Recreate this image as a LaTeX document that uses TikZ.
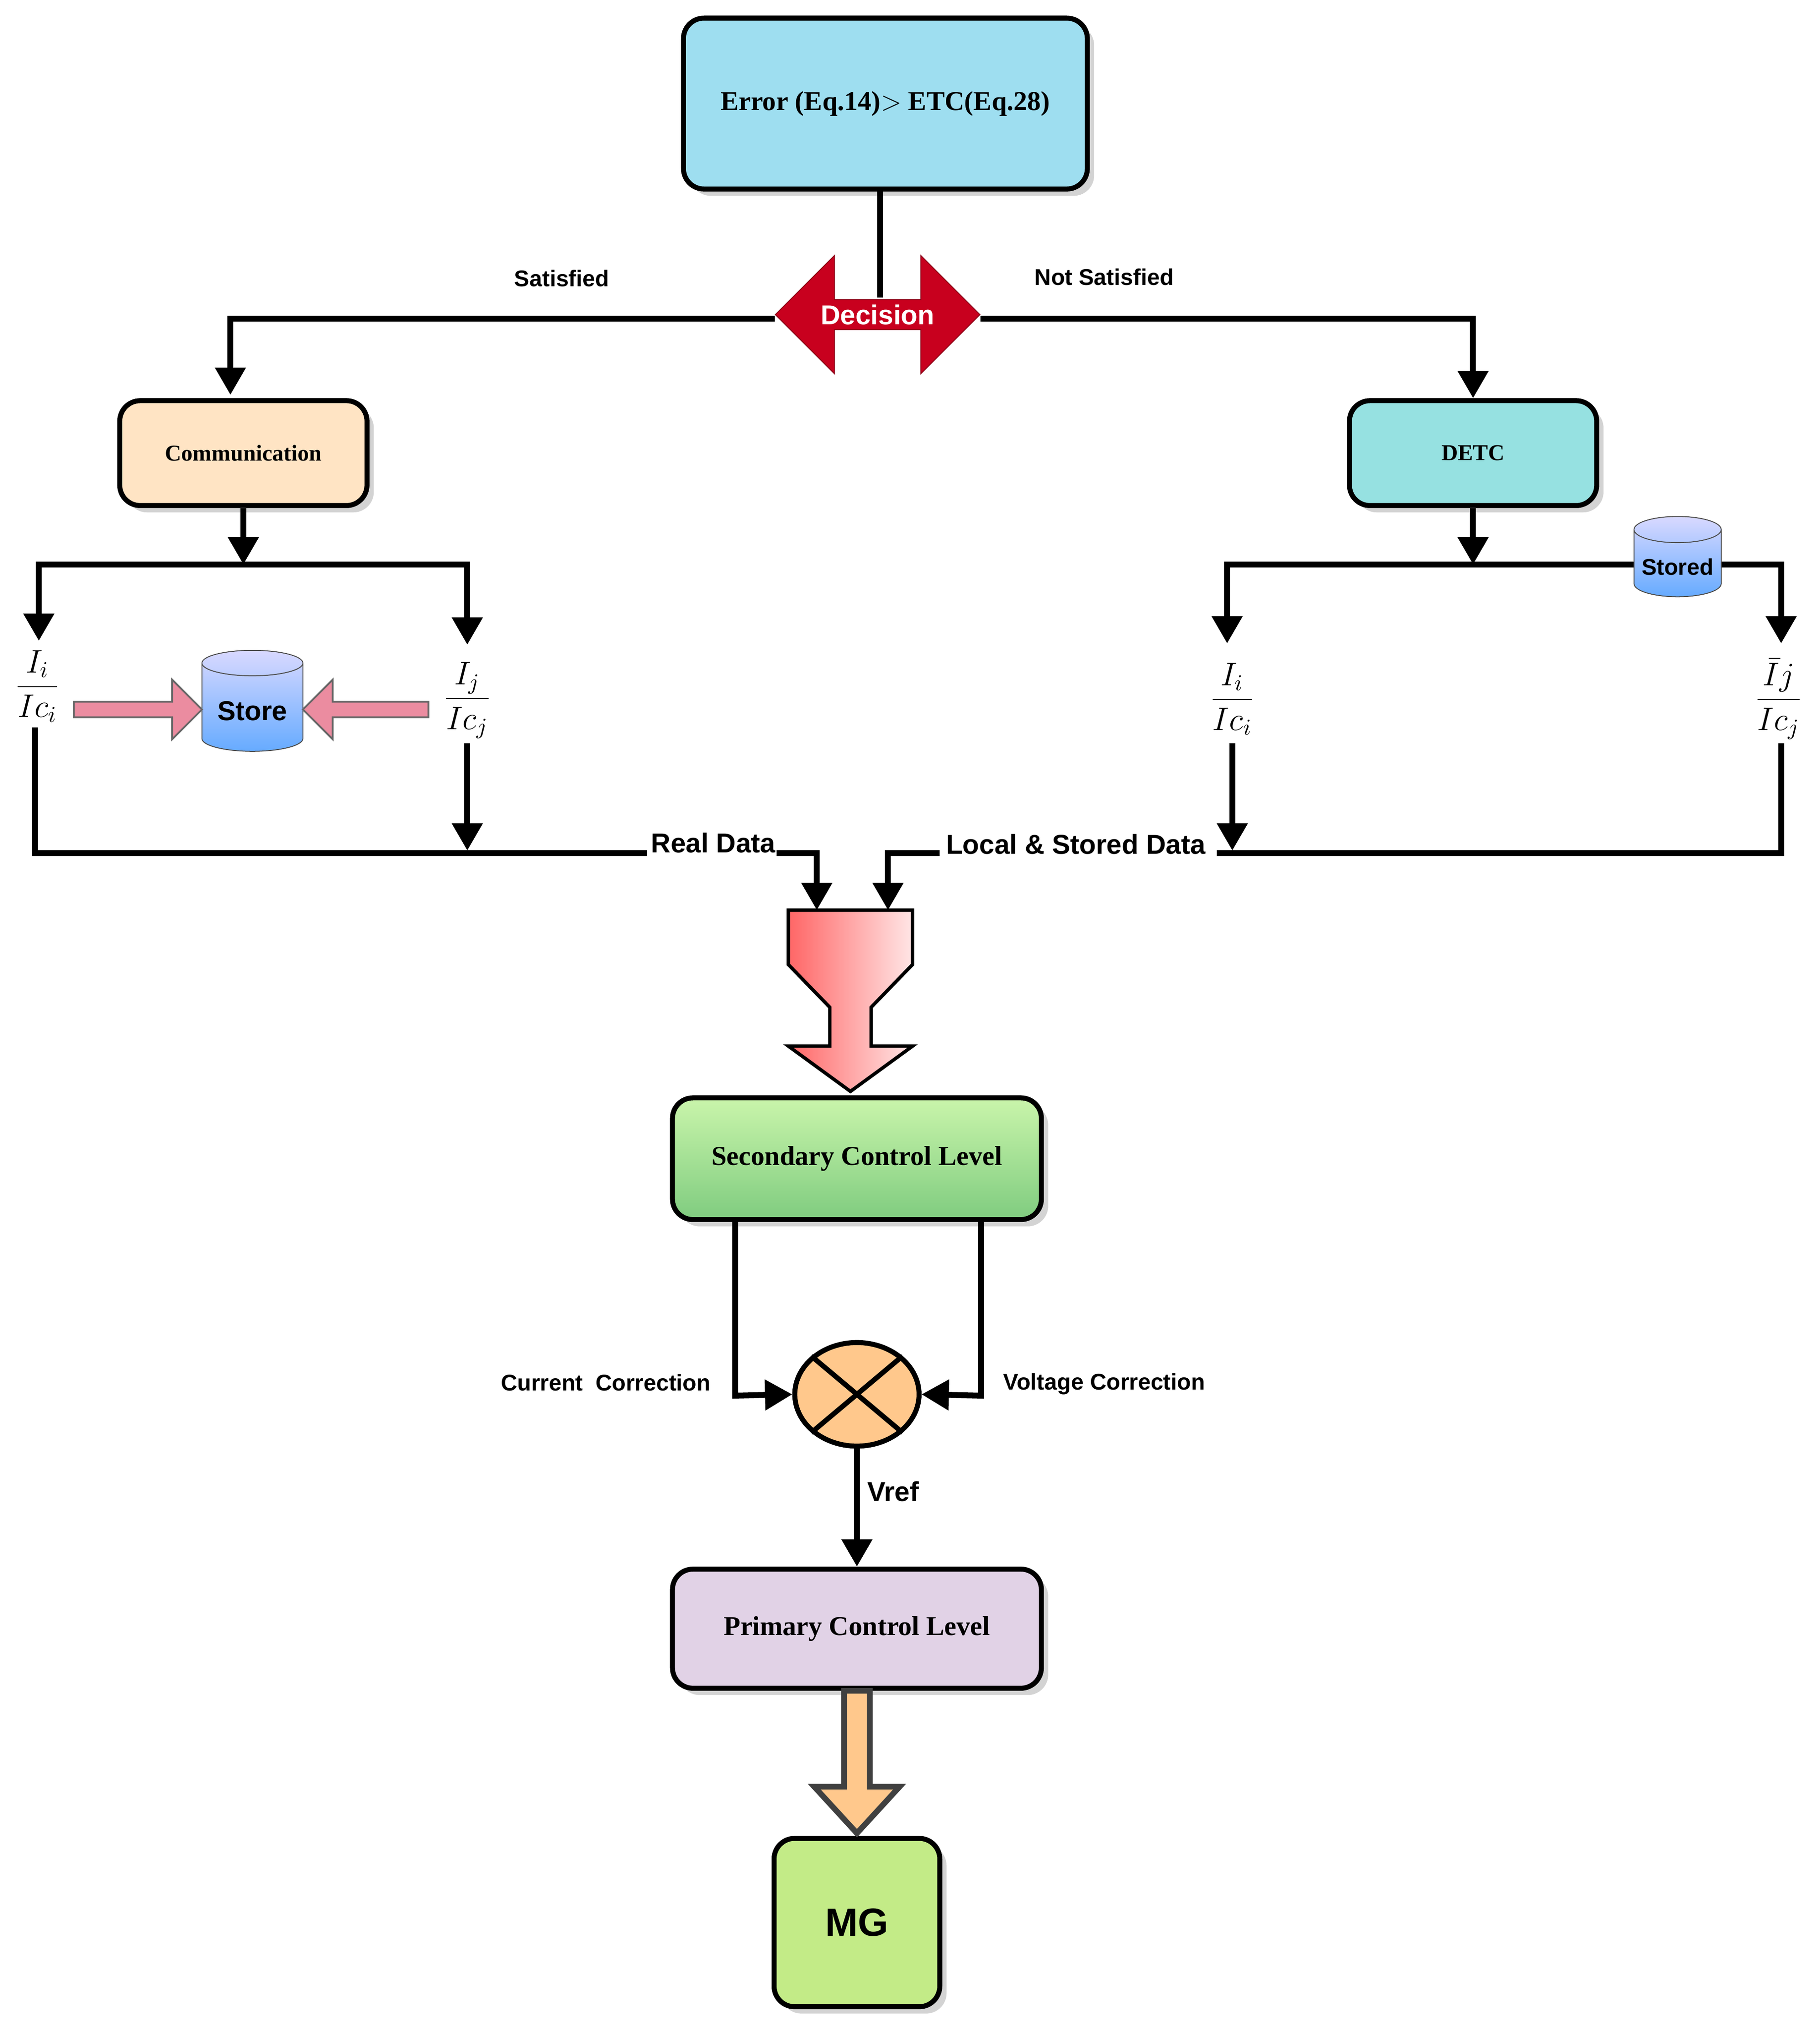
\documentclass[tikz,border=0pt]{standalone}
\usepackage{fontspec}
\setsansfont{Liberation Sans}
\newfontfamily\tnr{Liberation Serif}
\usetikzlibrary{shapes.geometric,shapes.arrows,shadows,arrows.meta}
\definecolor{topc}{RGB}{158,222,240}
\definecolor{peach}{RGB}{255,228,196}
\definecolor{detc}{RGB}{150,225,225}
\definecolor{decred}{RGB}{200,0,30}
\definecolor{prim}{RGB}{225,210,230}
\definecolor{orng}{RGB}{255,200,140}
\definecolor{mgc}{RGB}{195,235,135}
\definecolor{pinkar}{RGB}{235,140,160}
\tikzset{
 box/.style={draw=black,line width=2.2pt,rounded corners=9pt,drop shadow={opacity=0.35,shadow xshift=3pt,shadow yshift=-3pt},font=\tnr\bfseries\large,align=center},
 ln/.style={line width=2.6pt},
 ar/.style={ln,-{Triangle[length=12pt,width=13pt]}},
 lbl/.style={font=\sffamily\bfseries},
 lbl2/.style={font=\sffamily\bfseries\large},
 frac/.style={font=\Large,inner sep=1pt},
 cyl/.style={cylinder,shape border rotate=90,aspect=0.3,draw=black!70,top color=blue!15,bottom color=blue!55!cyan!60,font=\sffamily\bfseries\large},
}
\begin{document}
\begin{tikzpicture}[x=0.02cm,y=-0.02cm]
\useasboundingbox (0,0) rectangle (1406,1568);
% top
\node[box,fill=topc,minimum width=312*0.02cm,minimum height=132*0.02cm] (top) at (684,80) {Error (Eq.14)$>$ ETC(Eq.28)};
\coordinate (dtop) at (680,230);
\draw[ln] (top.south -| dtop) -- (dtop);
% decision
\node[double arrow,fill=decred,draw=decred!70!black,minimum width=30*0.02cm,double arrow head extend=34*0.02cm,minimum height=158*0.02cm,inner sep=2pt,text=white,font=\sffamily\bfseries\large] (dec) at (678,243) {Decision};
\node[box,fill=peach,minimum width=191*0.02cm,minimum height=81*0.02cm,font=\tnr\bfseries] (com) at (188,350) {Communication};
\node[box,fill=detc,minimum width=191*0.02cm,minimum height=81*0.02cm,font=\tnr\bfseries] (detc) at (1138,350) {DETC};
\draw[ar] (dec.west |- 0,246) -- (178,246) -- (178,305);
\draw[ar] (dec.east |- 0,246) -- (1138,246) -- (detc.north);
\node[lbl] (sat) at (434,215) {Satisfied};
\node[lbl] (nsat) at (853,214) {Not Satisfied};
% left branch
\coordinate (lj) at (188,436);
\draw[ar] (com.south) -- (lj);
\draw[ar] (188,436) -- (30,436) -- (30,495);
\draw[ar] (188,436) -- (361,436) -- (361,498);
\node[frac] (f1) at (29,530) {$\displaystyle\frac{I_i}{Ic_i}$};
\node[frac] (f2) at (361,541) {$\displaystyle\frac{I_j}{Ic_j}$};
\node[cyl,minimum width=78*0.02cm,minimum height=78*0.02cm] (store) at (195,549) {Store};
\draw[draw=black!60,fill=pinkar,line width=0.8pt] (57,542) -- (133,542) -- (133,525) -- (156,548) -- (133,571) -- (133,554) -- (57,554) -- cycle;
\draw[draw=black!60,fill=pinkar,line width=0.8pt] (331,542) -- (257,542) -- (257,525) -- (234,548) -- (257,571) -- (257,554) -- (331,554) -- cycle;
\draw[ln] (27,562) -- (27,659) -- (500,659);
\draw[ar] (361,574) -- (361,657);
\node[lbl2] (rd) at (551,651) {Real Data};
\draw[ar] (600,659) -- (631,659) -- (631,703);
% right branch
\draw[ar] (detc.south) -- (1138,436);
\draw[ar] (1138,436) -- (948,436) -- (948,497);
\draw[ar] (1138,436) -- (1376,436) -- (1376,497);
\node[cyl,minimum width=64*0.02cm,minimum height=62*0.02cm,font=\sffamily\bfseries] (sto) at (1296,438) {Stored};
\node[frac] (f3) at (952,540) {$\displaystyle\frac{I_i}{Ic_i}$};
\node[frac] (f4) at (1374,540) {$\displaystyle\frac{\bar{I}j}{Ic_j}$};
\draw[ar] (952,574) -- (952,657);
\draw[ln] (940,659) -- (1376,659) -- (1376,574);
\node[lbl2] (ld) at (831,652) {Local \& Stored Data};
\draw[ar] (726,659) -- (686,659) -- (686,703);
% funnel
\draw[line width=1.5pt,left color=red!60,right color=red!10] (609,703) -- (705,703) -- (705,745) -- (673,778) -- (673,808) -- (705,808) -- (657,843) -- (609,808) -- (641,808) -- (641,778) -- (609,745) -- cycle;
\node[box,top color=green!15!mgc!60,bottom color=green!60!black!50,minimum width=285*0.02cm,minimum height=94*0.02cm] (sec) at (662,895) {Secondary Control Level};
\node[ellipse,draw,line width=2.2pt,fill=orng,minimum width=96*0.02cm,minimum height=80*0.02cm] (sum) at (662,1077) {};
\draw[line width=2.2pt] (sum.north west) -- (sum.south east) (sum.north east) -- (sum.south west);
\draw[ar] (568,942) -- (568,1078) -- (sum.west);
\draw[ar] (758,942) -- (758,1078) -- (sum.east);
\node[lbl] (cc) at (468,1068) {Current\ \ Correction};
\node[lbl] (vc) at (853,1069) {Voltage Correction};
\node[box,fill=prim,minimum width=285*0.02cm,minimum height=92*0.02cm] (pri) at (662,1258) {Primary Control Level};
\draw[ar] (sum.south) -- (pri.north);
\node[lbl2] (vr) at (690,1152) {Vref};
\node[box,fill=mgc,minimum width=128*0.02cm,minimum height=130*0.02cm,font=\sffamily\bfseries\LARGE] (mg) at (662,1485) {MG};
\draw[line width=2.5pt,draw=black!75,fill=orng] (652,1306) -- (672,1306) -- (672,1380) -- (695,1380) -- (662,1416) -- (629,1380) -- (652,1380) -- cycle;
\end{tikzpicture}
\end{document}
